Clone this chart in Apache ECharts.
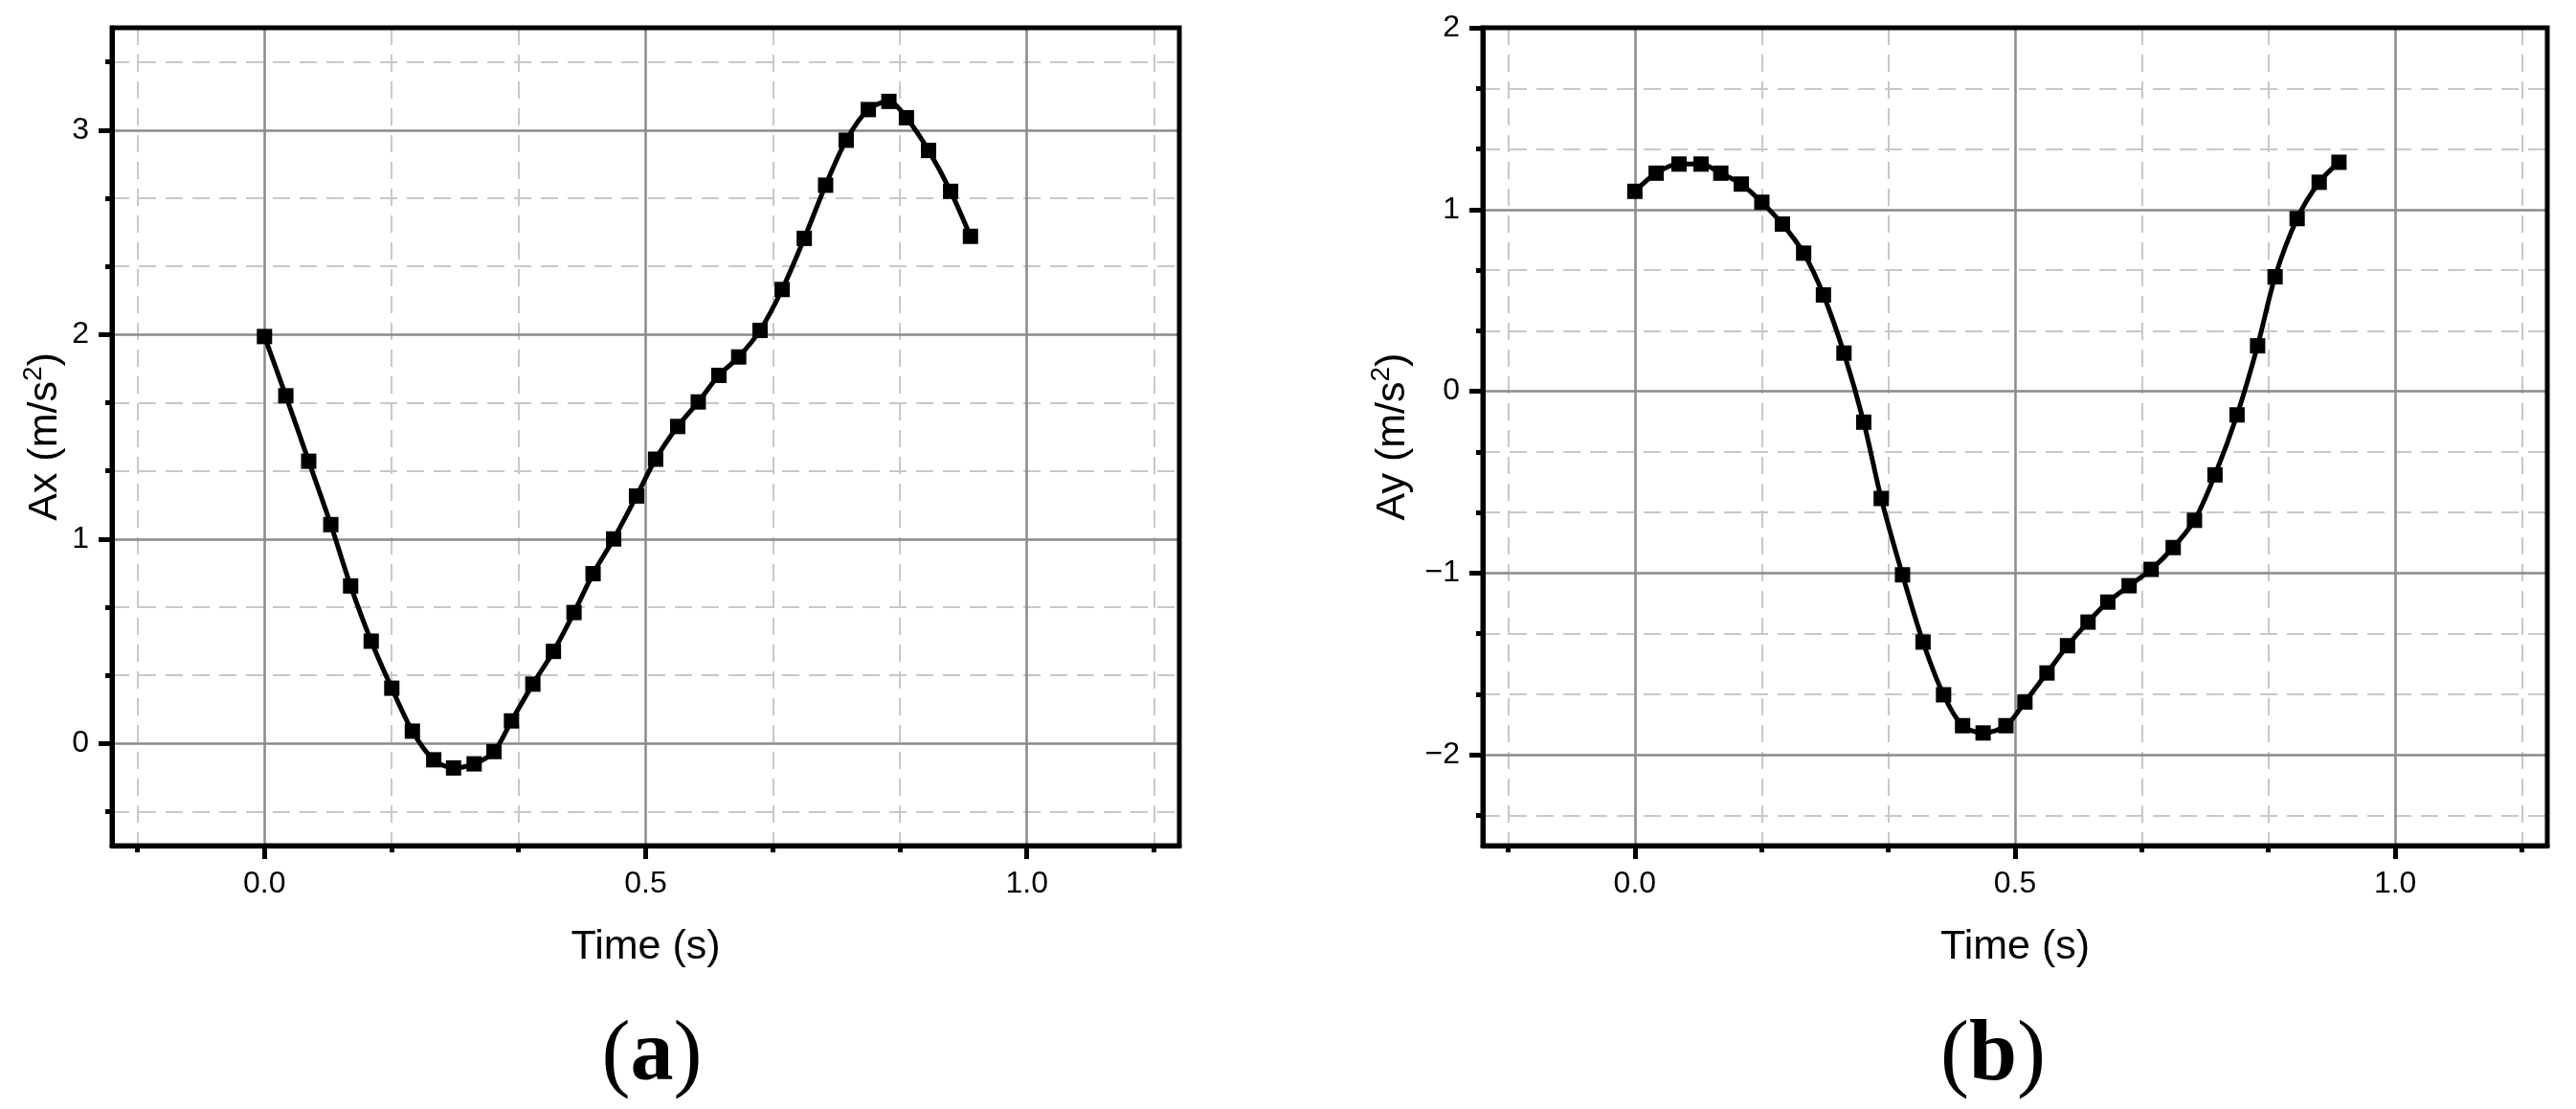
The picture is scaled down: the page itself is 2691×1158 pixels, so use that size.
<!DOCTYPE html>
<html>
<head>
<meta charset="utf-8">
<script src="https://cdn.jsdelivr.net/npm/echarts@6/dist/echarts.min.js"></script>
<style>
  html, body { margin: 0; padding: 0; background: #fff; }
  #main { width: 2691px; height: 1158px; }
</style>
</head>
<body>
<div id="main"></div>
<script>
// sample times (s), same for both panels
var times = [0, 0.028, 0.058, 0.087, 0.113, 0.140, 0.167, 0.194, 0.222, 0.248, 0.275, 0.301,
  0.324, 0.352, 0.379, 0.406, 0.431, 0.458, 0.488, 0.513, 0.542, 0.569, 0.596, 0.622,
  0.650, 0.679, 0.708, 0.736, 0.763, 0.792, 0.819, 0.842, 0.871, 0.900, 0.926];
// (a) Ax (m/s2)
var axValues = [1.99, 1.70, 1.38, 1.07, 0.77, 0.50, 0.27, 0.06, -0.08, -0.12, -0.10, -0.04,
  0.11, 0.29, 0.45, 0.64, 0.83, 1.00, 1.21, 1.39, 1.55, 1.67, 1.80, 1.89,
  2.02, 2.22, 2.47, 2.73, 2.95, 3.10, 3.14, 3.06, 2.90, 2.70, 2.48];
// (b) Ay (m/s2)
var ayValues = [1.10, 1.20, 1.25, 1.25, 1.20, 1.14, 1.04, 0.92, 0.76, 0.53, 0.21, -0.17,
  -0.59, -1.01, -1.38, -1.67, -1.84, -1.88, -1.84, -1.71, -1.55, -1.40, -1.27, -1.16,
  -1.07, -0.98, -0.86, -0.71, -0.46, -0.13, 0.25, 0.63, 0.95, 1.15, 1.26];

var xMajorTicks = [0, 0.5, 1.0];
var xMinorTicks = [-0.1667, 0.1667, 0.3333, 0.6667, 0.8333, 1.1667];
var axMajorTicks = [0, 1, 2, 3];
var axMinorTicks = [-0.3333, 0.3333, 0.6667, 1.3333, 1.6667, 2.3333, 2.6667, 3.3333];
var ayMajorTicks = [-2, -1, 0, 1, 2];
var ayMinorTicks = [-2.3333, -1.6667, -1.3333, -0.6667, -0.3333, 0.3333, 0.6667, 1.3333, 1.6667];

var FONT = 'Liberation Sans';

function pairs(xs, ys) {
  return xs.map(function (x, i) { return [x, ys[i]]; });
}

function fmtX(v) { return v.toFixed(1); }
function fmtY(v) { return v < 0 ? '\u2212' + Math.abs(v) : String(v); }

// axis carrying data, labels, major ticks and solid grid
function majorAxis(gridIndex, pos, min, max, ticks, fmt, name, nameGap) {
  return {
    type: 'value', gridIndex: gridIndex, position: pos, min: min, max: max,
    name: name, nameLocation: 'middle', nameGap: nameGap,
    nameRotate: pos === 'left' ? 90 : 0,
    nameTextStyle: {
      color: '#000', fontFamily: FONT, fontSize: 43,
      rich: {
        n: { fontFamily: FONT, fontSize: 43, color: '#000', lineHeight: 52 },
        s: { fontFamily: FONT, fontSize: 28, color: '#000', lineHeight: 28, verticalAlign: 'top' }
      }
    },
    axisLine: { show: true, onZero: false, lineStyle: { color: '#000', width: 5 } },
    axisTick: { show: true, inside: false, length: 14, customValues: ticks,
      lineStyle: { color: '#000', width: 5 } },
    axisLabel: { show: true, margin: 24, customValues: ticks, formatter: fmt,
      color: '#000', fontFamily: FONT, fontSize: 32 },
    splitLine: { show: true, lineStyle: { color: '#8a8a8a', width: 2.5, type: 'solid' } },
    z: 2
  };
}

// overlay axis for minor ticks and dashed grid
function minorAxis(gridIndex, pos, min, max, ticks) {
  return {
    type: 'value', gridIndex: gridIndex, position: pos, min: min, max: max,
    axisLine: { show: false, onZero: false },
    axisTick: { show: true, inside: false, length: 7, customValues: ticks,
      lineStyle: { color: '#000', width: 5 } },
    axisLabel: { show: false, customValues: ticks },
    splitLine: { show: true, lineStyle: { color: '#c8c8c8', width: 2, type: [18, 10] } },
    z: 1
  };
}

function panelLabel(letter, x) {
  return {
    type: 'text', x: x, y: 1104,
    style: {
      text: '{p|(}{b|' + letter + '}{p|)}', align: 'center', verticalAlign: 'middle', fill: '#000',
      rich: {
        p: { font: 'normal 400 90px "Liberation Serif"', fill: '#000' },
        b: { font: 'normal 700 90px "Liberation Serif"', fill: '#000' }
      }
    }
  };
}

var chart = echarts.init(document.getElementById('main'), null, { renderer: 'canvas' });

var option = {
  backgroundColor: '#fff',
  animation: false,
  grid: [
    { left: 117, top: 29, width: 1115, height: 854, show: true, borderColor: '#000', borderWidth: 5, z: 5 },
    { left: 1549, top: 29, width: 1112, height: 854, show: true, borderColor: '#000', borderWidth: 5, z: 5 }
  ],
  xAxis: [
    majorAxis(0, 'bottom', -0.2, 1.2, xMajorTicks, fmtX, 'Time (s)', 85),
    minorAxis(0, 'bottom', -0.2, 1.2, xMinorTicks),
    majorAxis(1, 'bottom', -0.2, 1.2, xMajorTicks, fmtX, 'Time (s)', 85),
    minorAxis(1, 'bottom', -0.2, 1.2, xMinorTicks)
  ],
  yAxis: [
    majorAxis(0, 'left', -0.5, 3.5, axMajorTicks, fmtY, '{n|Ax (m/s}{s|2}{n|)}', 44),
    minorAxis(0, 'left', -0.5, 3.5, axMinorTicks),
    majorAxis(1, 'left', -2.5, 2, ayMajorTicks, fmtY, '{n|Ay (m/s}{s|2}{n|)}', 68),
    minorAxis(1, 'left', -2.5, 2, ayMinorTicks)
  ],
  series: [
    {
      name: 'Ax', type: 'line', xAxisIndex: 0, yAxisIndex: 0,
      data: pairs(times, axValues),
      smooth: 0.3, symbol: 'rect', symbolSize: 16,
      itemStyle: { color: '#000' },
      lineStyle: { color: '#000', width: 5 },
      z: 3
    },
    {
      name: 'Ay', type: 'line', xAxisIndex: 2, yAxisIndex: 2,
      data: pairs(times, ayValues),
      smooth: 0.3, symbol: 'rect', symbolSize: 16,
      itemStyle: { color: '#000' },
      lineStyle: { color: '#000', width: 5 },
      z: 3
    }
  ],
  graphic: [panelLabel('a', 681), panelLabel('b', 2082)]
};

chart.setOption(option);
</script>
</body>
</html>
